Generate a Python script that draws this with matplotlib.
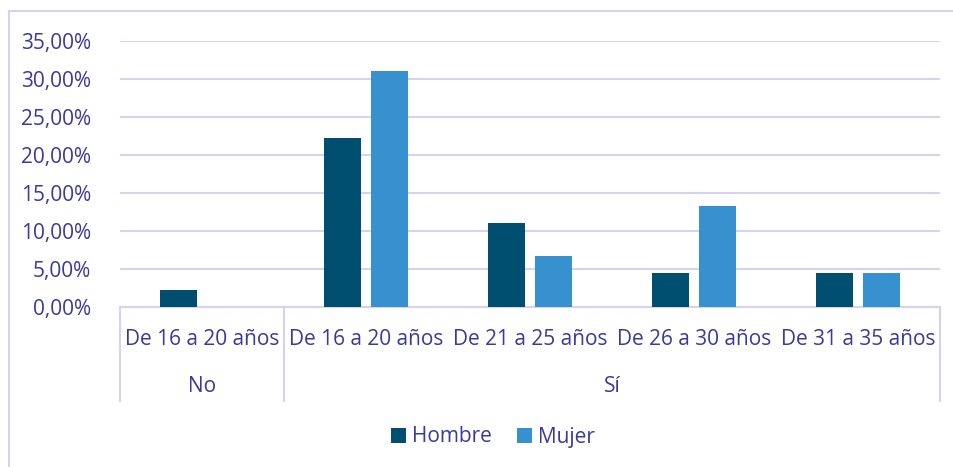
import matplotlib.pyplot as plt
from matplotlib.lines import Line2D
from matplotlib.ticker import FuncFormatter
import numpy as np

plt.rcParams['font.family'] = ['Open Sans', 'DejaVu Sans']

groups = ["No", "Sí"]
group_sizes = [1, 4]
ages = ["De 16 a 20 años", "De 16 a 20 años", "De 21 a 25 años",
        "De 26 a 30 años", "De 31 a 35 años"]
hombre = [2.22, 22.22, 11.11, 4.44, 4.44]
mujer = [0.0, 31.11, 6.67, 13.33, 4.44]

txt = '#3B38A0'
grid = '#D6D2F2'
c_h = '#004F71'
c_m = '#3791CF'
fs = 15

W, H = 954, 467
fig = plt.figure(figsize=(W / 100, H / 100), dpi=100)
ax = fig.add_axes([120 / W, 1 - 307 / H, 820 / W, 266 / H])

x = np.arange(len(ages))
bw = 37 / 164
off = 23.5 / 164
ax.bar(x - off, np.array(hombre) / 100, bw, color=c_h, label='Hombre', zorder=3)
ax.bar(x + off, np.array(mujer) / 100, bw, color=c_m, label='Mujer', zorder=3)

ax.set_xlim(-0.5, len(ages) - 0.5)
ax.set_ylim(0, 0.35)
ax.set_yticks(np.arange(0, 0.351, 0.05))
ax.yaxis.set_major_formatter(FuncFormatter(lambda v, p: f"{v*100:.2f}%".replace('.', ',')))
ax.tick_params(axis='y', length=0, labelsize=fs, labelcolor=txt, pad=21)
ax.set_xticks([])
ax.grid(axis='y', color=grid, lw=1.5, zorder=0)
for s in ['top', 'right', 'left']:
    ax.spines[s].set_visible(False)
ax.spines['bottom'].set_color(grid)
ax.spines['bottom'].set_linewidth(1.5)

tr = ax.get_xaxis_transform()
for i, a in enumerate(ages):
    ax.text(i, -0.124, a, transform=tr, ha='center', va='center', fontsize=fs, color=txt)

edges = np.concatenate([[0], np.cumsum(group_sizes)]) - 0.5
for e in edges:
    ax.add_line(Line2D([e, e], [0, -0.353], transform=tr, color=grid, lw=1.5, clip_on=False))
for g, a, b in zip(groups, edges[:-1], edges[1:]):
    ax.text((a + b) / 2, -0.297, g, transform=tr, ha='center', va='center', fontsize=fs, color=txt)

# outer chart border (only top/left visible)
fig.add_artist(Line2D([9 / W, 9 / W], [0, 1 - 11 / H], transform=fig.transFigure, color=grid, lw=1.5))
fig.add_artist(Line2D([9 / W, 1], [1 - 11 / H, 1 - 11 / H], transform=fig.transFigure, color=grid, lw=1.5))

leg = fig.legend(loc='center', bbox_to_anchor=(493 / W, 1 - 437 / H), ncol=2, frameon=False,
                 fontsize=fs, handlelength=0.7, handleheight=0.7, handletextpad=0.3,
                 columnspacing=1.2)
for t in leg.get_texts():
    t.set_color(txt)

fig.savefig('out.png', dpi=100)
